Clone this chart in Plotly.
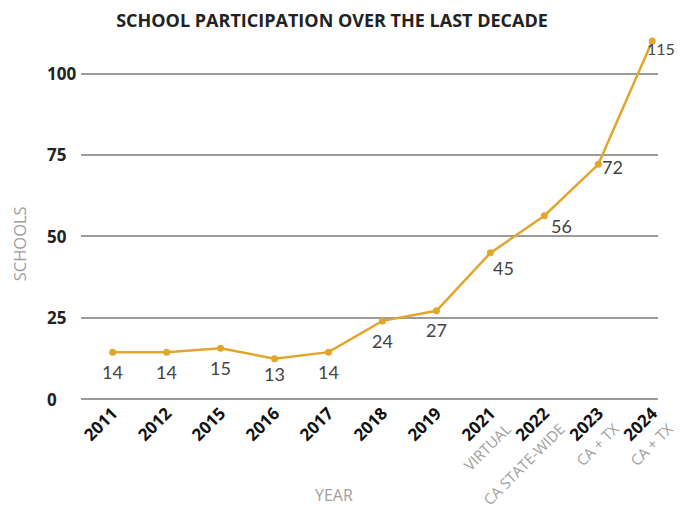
import plotly.graph_objects as go

years = ["2011", "2012", "2015", "2016", "2017", "2018", "2019", "2021", "2022", "2023", "2024"]
subtitles = ["", "", "", "", "", "", "", "VIRTUAL", "CA STATE-WIDE", "CA + TX", "CA + TX"]
schools = [14.4, 14.4, 15.6, 12.4, 14.4, 24.0, 27.1, 44.9, 56.3, 72.1, 110.0]
labels = ["14", "14", "15", "13", "14", "24", "27", "45", "56", "72", "115"]
y_ticks = [0, 25, 50, 75, 100]

GOLD = "#E3A52B"
GRID = "#9B9B9B"
SUB = "#A0A0A0"
FONT = "Open Sans"
LFONT = "Lato"

# page body has an 8px default margin; figure is sized so that the page is 683x508
OFF = 8
W, H = 683 - OFF, 508 - OFF
PL, PR, PT, PB = 81 - OFF, 658 - OFF, 41.1 - OFF, 399.3 - OFF  # plot-area edges in figure px
PW, PH = PR - PL, PB - PT

xs = list(range(len(years)))
ticktext = []
for y, s in zip(years, subtitles):
    if s:
        ticktext.append(f"{y}<br><span style='color:{SUB};font-weight:normal;font-size:15px'>{s}</span>")
    else:
        ticktext.append(y)

fig = go.Figure()
fig.add_trace(go.Scatter(
    x=xs, y=schools, mode="lines+markers",
    line=dict(color=GOLD, width=2.5),
    marker=dict(color=GOLD, size=7),
    cliponaxis=False, hoverinfo="skip", showlegend=False,
))

# data label offsets (pixels) and anchors
shifts = [(0, -20), (0, -20), (0, -20), (0, -15), (0, -20), (0, -20), (0, -19),
          (13, -15), (17, -10), (14, -3), (25, -7)]
anchors = ["center"] * 10 + ["right"]
for x, y, t, (dx, dy), a in zip(xs, schools, labels, shifts, anchors):
    fig.add_annotation(x=x, y=y, xref="x", yref="y", text=t, showarrow=False, xanchor=a,
                       xshift=dx, yshift=dy, font=dict(family=LFONT, size=18 if a == "center" else 16,
                                                       color="#444444"))

for v in y_ticks:
    fig.add_annotation(x=(45 - 81) / PW, y=v, xref="paper", yref="y", text=str(v), showarrow=False,
                       xanchor="left", yanchor="middle",
                       font=dict(family=FONT, size=17, color="#222222", weight="bold"))

fig.add_annotation(x=(334 - 81) / PW, y=(399.3 - 495) / PH, xref="paper", yref="paper", text="YEAR",
                   showarrow=False, xanchor="center", yanchor="middle",
                   font=dict(family=FONT, size=16, color=SUB))
fig.add_annotation(x=(19.5 - 81) / PW, y=(399.3 - 244) / PH, xref="paper", yref="paper", text="SCHOOLS",
                   showarrow=False, textangle=-90, xanchor="center", yanchor="middle",
                   font=dict(family=FONT, size=16.5, color=SUB))

fig.update_layout(
    width=W, height=H,
    margin=dict(l=PL, r=W - PR, t=PT, b=H - PB, autoexpand=False),
    paper_bgcolor="white", plot_bgcolor="white",
    title=dict(text="SCHOOL PARTICIPATION OVER THE LAST DECADE", x=(332 - OFF) / W, xanchor="center",
               y=1 - (20.5 - OFF) / H, yanchor="middle",
               font=dict(family=FONT, size=18, color="#222222", weight="bold")),
    xaxis=dict(range=[-0.587, 10.106], tickvals=xs, ticktext=ticktext, tickangle=-45,
               showgrid=False, zeroline=False, showline=False, ticks="", automargin=False,
               tickfont=dict(family=FONT, size=17, color="#111111", weight="bold")),
    yaxis=dict(range=[0, 110], tickvals=y_ticks, showticklabels=False, showgrid=True,
               gridcolor=GRID, gridwidth=1.6, zeroline=True, zerolinecolor=GRID, zerolinewidth=1.6,
               showline=False, ticks="", automargin=False),
)

fig.write_html("out.html")
